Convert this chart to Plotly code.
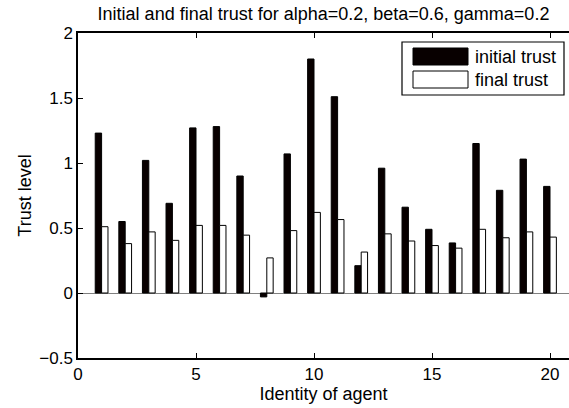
import plotly.graph_objects as go

agents = list(range(1, 21))
initial_trust = [1.23, 0.55, 1.02, 0.69, 1.27, 1.28, 0.90, -0.03, 1.07, 1.80,
                 1.51, 0.21, 0.96, 0.66, 0.49, 0.385, 1.15, 0.79, 1.03, 0.82]
final_trust = [0.51, 0.38, 0.47, 0.405, 0.52, 0.52, 0.445, 0.27, 0.48, 0.62,
               0.565, 0.315, 0.455, 0.40, 0.365, 0.345, 0.49, 0.425, 0.47, 0.43]
series_names = ["initial trust", "final trust"]
y_tickvals = [-0.5, 0, 0.5, 1, 1.5, 2]
y_ticktext = ["\u22120.5", "0", "0.5", "1", "1.5", "2"]
x_tickvals = [0, 5, 10, 15, 20]

FONT = "Liberation Sans, Arial, Helvetica, sans-serif"
W, H = 569, 408
L, R, T, B = 78, 0, 33, 50

fig = go.Figure()
fig.add_trace(go.Bar(x=agents, y=initial_trust, name=series_names[0],
                     marker=dict(color="#080000", line=dict(color="#000000", width=1))))
fig.add_trace(go.Bar(x=agents, y=final_trust, name=series_names[1],
                     marker=dict(color="#ffffff", line=dict(color="#000000", width=1))))

pw = W - L - R
ph = H - T - B
x_max = pw / 23.6

fig.update_layout(
    width=W, height=H,
    margin=dict(l=L, r=R, t=T, b=B),
    paper_bgcolor="white", plot_bgcolor="white",
    barmode="group", bargap=0.46, bargroupgap=0.0,
    showlegend=False,
    font=dict(family=FONT, size=17, color="black"),
    title=dict(text="Initial and final trust for alpha=0.2, beta=0.6, gamma=0.2",
               x=0.5, xref="paper", xanchor="center",
               yref="container", y=1 - 14 / H, yanchor="middle",
               font=dict(size=18, family=FONT, color="black")),
    xaxis=dict(range=[0, x_max], tickvals=x_tickvals, ticks="inside", ticklen=5,
               tickcolor="black", showline=True, linecolor="black", linewidth=1.5,
               mirror="ticks", showgrid=False, zeroline=False,
               tickfont=dict(size=17), title=dict(text="Identity of agent", standoff=2,
               font=dict(size=18))),
    yaxis=dict(range=[-0.5, 2], tickvals=y_tickvals, ticktext=y_ticktext,
               ticks="inside", ticklen=5, tickcolor="black", showline=True,
               linecolor="black", linewidth=1.5, mirror=False, showgrid=False,
               zeroline=True, zerolinecolor="#808080", zerolinewidth=1,
               tickfont=dict(size=17), title=dict(text="Trust level", standoff=3,
               font=dict(size=18))),
)

def px_x(px):
    return (px - L) / pw
def px_y(py):
    return 1 - (py - T) / ph

shapes = [
    dict(type="rect", xref="paper", yref="paper", x0=px_x(402), x1=px_x(564),
         y0=px_y(95), y1=px_y(42), line=dict(color="black", width=1.2), fillcolor="white"),
    dict(type="rect", xref="paper", yref="paper", x0=px_x(413), x1=px_x(468),
         y0=px_y(65), y1=px_y(48), line=dict(color="black", width=1), fillcolor="#080000"),
    dict(type="rect", xref="paper", yref="paper", x0=px_x(413), x1=px_x(468),
         y0=px_y(88), y1=px_y(71), line=dict(color="black", width=1), fillcolor="white"),
]
fig.update_layout(shapes=shapes)
fig.add_annotation(xref="paper", yref="paper", x=px_x(473), y=px_y(56.5), text=series_names[0],
                   showarrow=False, xanchor="left", yanchor="middle", font=dict(size=18))
fig.add_annotation(xref="paper", yref="paper", x=px_x(473), y=px_y(79.5), text=series_names[1],
                   showarrow=False, xanchor="left", yanchor="middle", font=dict(size=18))

fig.write_html("out.html", config={"displayModeBar": False},
               post_script="document.body.style.margin='0';")
